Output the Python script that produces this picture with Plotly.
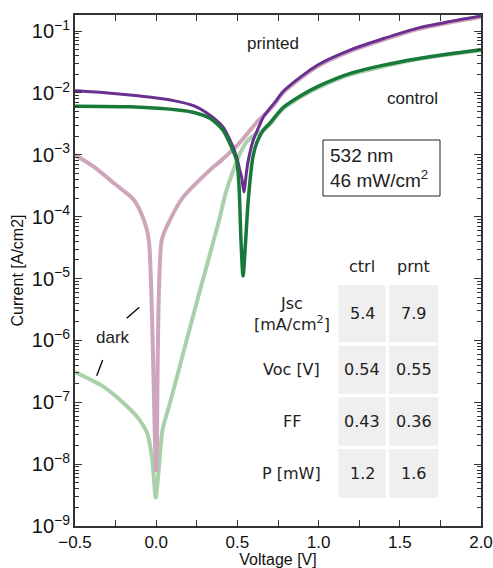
import numpy as np
import plotly.graph_objects as go

# ---------------- data (log10 of current in A/cm2) ----------------
# light, printed device (purple)
v_light_prnt = [-0.5, -0.3, -0.1, 0.1, 0.233, 0.331, 0.411, 0.454, 0.495, 0.515, 0.526, 0.54,
                0.555, 0.567, 0.598, 0.64, 0.66, 0.70, 0.74, 0.78, 0.9, 1.0, 1.2, 1.4, 1.6, 1.8, 2.0]
logi_light_prnt = [-1.966, -2.0, -2.05, -2.12, -2.21, -2.36, -2.55, -2.76, -3.03, -3.25, -3.36, -3.60,
                   -3.30, -3.09, -2.76, -2.50, -2.39, -2.25, -2.12, -1.98, -1.72, -1.54, -1.30, -1.12, -0.96, -0.85, -0.757]

# light, control device (dark green)
v_light_ctrl = [-0.5, -0.161, 0.147, 0.233, 0.331, 0.411, 0.454, 0.495, 0.51, 0.522, 0.535,
                0.551, 0.567, 0.596, 0.62, 0.66, 0.70, 0.78, 0.9, 1.0, 1.2, 1.4, 1.6, 1.8, 2.0]
logi_light_ctrl = [-2.214, -2.225, -2.28, -2.316, -2.41, -2.60, -2.82, -3.09, -3.5, -4.38, -4.96,
                   -4.38, -3.73, -3.03, -2.80, -2.60, -2.49, -2.24, -2.03, -1.89, -1.68, -1.55, -1.45, -1.37, -1.30]

# dark, printed device (pale mauve)
v_dark_prnt = [-0.5, -0.383, -0.26, -0.137, -0.075, -0.045, 0.0, 0.034, 0.085, 0.167, 0.352,
               0.393, 0.516, 0.62, 0.66, 0.72, 0.78, 0.9, 1.0, 1.2, 1.4, 1.6, 1.8, 2.0]
logi_dark_prnt = [-3.0, -3.196, -3.46, -3.73, -4.06, -4.38, -8.1, -4.38, -4.05, -3.68, -3.196,
                  -3.11, -2.80, -2.47, -2.37, -2.21, -2.00, -1.74, -1.56, -1.32, -1.14, -0.975, -0.865, -0.772]

# dark, control device (pale green)
v_dark_ctrl = [-0.5, -0.321, -0.198, -0.116, -0.054, -0.024, -0.003, 0.017, 0.038, 0.089, 0.171,
               0.253, 0.3, 0.383, 0.43, 0.475, 0.516, 0.56, 0.62, 0.66, 0.70, 0.78, 0.9, 1.0, 1.2,
               1.4, 1.6, 1.8, 2.0]
logi_dark_ctrl = [-6.513, -6.755, -7.02, -7.24, -7.51, -7.94, -8.54, -8.05, -7.46, -6.97, -6.16,
                  -5.35, -4.9, -4.1, -3.6, -3.25, -2.98, -2.78, -2.66, -2.61, -2.51, -2.26, -2.05, -1.91, -1.70,
                  -1.57, -1.46, -1.38, -1.31]

# table
table_cols = ["ctrl", "prnt"]
table_rows = ["Jsc<br>[mA/cm<sup>2</sup>]", "Voc [V]", "FF", "P [mW]"]
ctrl_vals = ["5.4", "0.54", "0.43", "1.2"]
prnt_vals = ["7.9", "0.55", "0.36", "1.6"]

x_ticks = [-0.5, 0.0, 0.5, 1.0, 1.5, 2.0]

# ---------------- styling ----------------
W, H = 493, 568
L, R, T, B = 75, 12, 15, 42
PW, PH = W - L - R, H - T - B

def px(xp):
    return (xp - L) / PW

def py(yp):
    return (H - B - yp) / PH

C_PRNT = "#6b2f8f"
C_CTRL = "#18793a"
C_DPRNT = "#cda6bc"
C_DCTRL = "#aad0aa"
FONT = "Liberation Sans, Arial, sans-serif"
TFONT = "DejaVu Sans, Verdana, sans-serif"

fig = go.Figure()

def add(v, logi, color, width):
    fig.add_trace(go.Scatter(x=v, y=[10 ** l for l in logi], mode="lines",
                             line=dict(color=color, width=width, shape="spline", smoothing=0.7),
                             showlegend=False, hoverinfo="skip"))

add(v_dark_ctrl, logi_dark_ctrl, C_DCTRL, 4)
add(v_dark_prnt, logi_dark_prnt, C_DPRNT, 4)
add(v_light_prnt, logi_light_prnt, C_PRNT, 3)
add(v_light_ctrl, logi_light_ctrl, C_CTRL, 3.5)

shapes = []
annots = []

def text(xp, yp, s, family=FONT, size=17, xanchor="center", align="center"):
    annots.append(dict(xref="paper", yref="paper", x=px(xp), y=py(yp), text=s,
                       xanchor=xanchor, yanchor="middle", align=align, showarrow=False,
                       font=dict(family=family, size=size, color="#222")))

# annotation texts
text(273, 43, "printed")
text(412, 98, "control")
text(113, 337, "dark")

# dark pointer lines
for (x0, y0, x1, y1) in [(126.7, 318.3, 139.3, 307.3), (96.7, 375.7, 102.7, 360)]:
    shapes.append(dict(type="line", xref="paper", yref="paper",
                       x0=px(x0), y0=py(y0), x1=px(x1), y1=py(y1),
                       line=dict(color="black", width=1.3)))

# box with illumination info
shapes.append(dict(type="rect", xref="paper", yref="paper",
                   x0=px(323), x1=px(440), y0=py(196), y1=py(140),
                   line=dict(color="#222", width=1), fillcolor="white"))
text(328, 168, "532 nm<br>46 mW/cm<sup>2</sup>", size=19, xanchor="left", align="left")

# table
col_x = [(338.3, 385.7), (389, 438.3)]
row_y = [(285, 342.3), (345.7, 394), (397.3, 445.7), (449, 497.7)]
for j, name in enumerate(table_cols):
    cx = (col_x[j][0] + col_x[j][1]) / 2
    text(cx, 266, name, family=TFONT, size=16)
for i, lab in enumerate(table_rows):
    cy = (row_y[i][0] + row_y[i][1]) / 2
    text(291.7, cy, lab, family=TFONT, size=16)
    for j, vals in enumerate([ctrl_vals, prnt_vals]):
        shapes.append(dict(type="rect", xref="paper", yref="paper",
                           x0=px(col_x[j][0]), x1=px(col_x[j][1]),
                           y0=py(row_y[i][1]), y1=py(row_y[i][0]),
                           line=dict(width=0), fillcolor="#efefef", layer="below"))
        cx = (col_x[j][0] + col_x[j][1]) / 2
        text(cx, cy, vals[i], family=TFONT, size=16)

fig.update_layout(
    width=W, height=H,
    margin=dict(l=L, r=R, t=T, b=B, autoexpand=False),
    paper_bgcolor="white", plot_bgcolor="white",
    shapes=shapes, annotations=annots,
    font=dict(family=FONT, color="#111"),
)

fig.update_xaxes(
    range=[-0.5, 2.0], tickvals=x_ticks, tickformat=".1f", automargin=False,
    ticks="inside", ticklen=6, tickwidth=1.2, tickcolor="#333",
    minor=dict(dtick=0.25, ticks="inside", ticklen=6, tickwidth=1.2, tickcolor="#333"),
    showline=True, linecolor="#333", linewidth=1.5, mirror="ticks",
    showgrid=False, zeroline=False,
    tickfont=dict(family=FONT, size=17, color="#111"),
    title=dict(text="Voltage [V]", font=dict(family=FONT, size=16, color="#111"), standoff=2),
)
fig.update_yaxes(
    type="log", range=[-9, -0.74], dtick=1, exponentformat="power", showexponent="all",
    automargin=False,
    ticks="inside", ticklen=7, tickwidth=1.2, tickcolor="#333",
    minor=dict(dtick="D1", ticks="inside", ticklen=4, tickwidth=1, tickcolor="#333"),
    showline=True, linecolor="#333", linewidth=1.5, mirror="ticks",
    showgrid=False, zeroline=False,
    tickfont=dict(family=FONT, size=16, color="#111"),
    title=dict(text="Current [A/cm2]", font=dict(family=FONT, size=16, color="#111"), standoff=4),
)

fig.write_html("out.html", config={"displayModeBar": False},
               post_script="document.body.style.margin='0';document.body.style.overflow='hidden';")
